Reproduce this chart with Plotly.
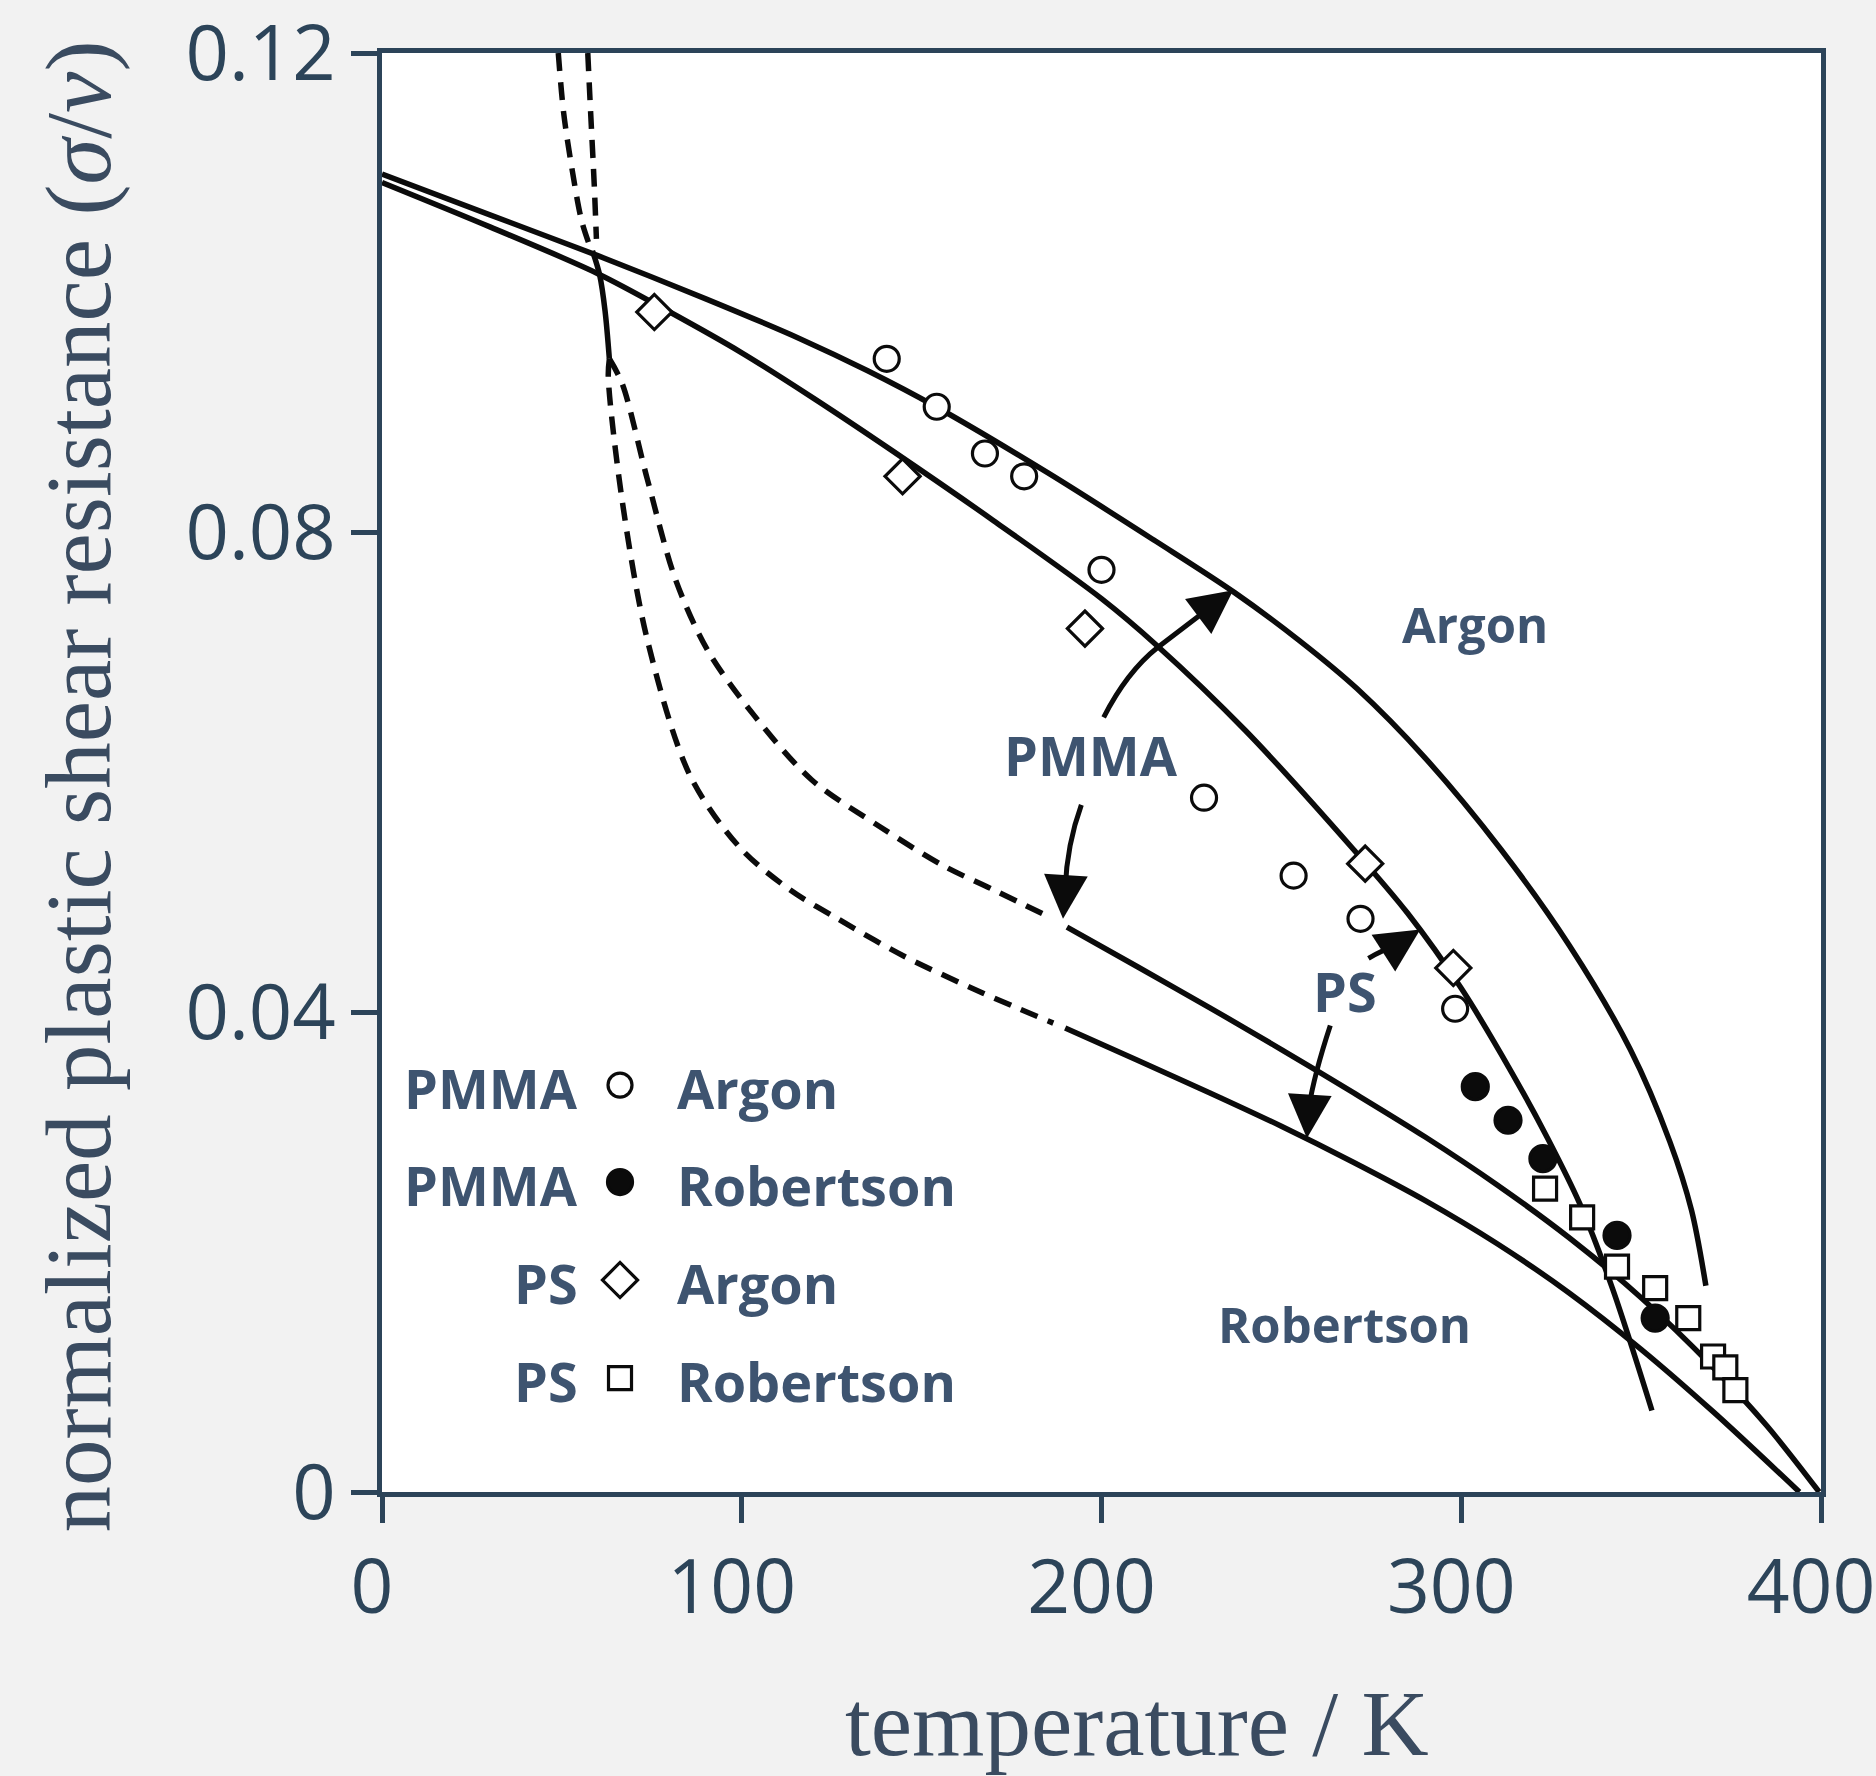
import plotly.graph_objects as go

# ---------------- data ----------------
# Argon model, upper curve (PMMA)
argon_pmma_T = [0, 30, 60, 90, 116, 135, 154, 185, 215, 237, 255, 271, 290, 311, 330, 347, 358, 364, 368]
argon_pmma_y = [0.1099, 0.1065, 0.1031, 0.0995, 0.0962, 0.0935, 0.0905, 0.0850, 0.0793, 0.0750, 0.0710,
                0.0670, 0.0612, 0.0536, 0.0456, 0.0369, 0.0292, 0.0235, 0.0172]
# Argon model, second curve (PS)
argon_ps_T = [0, 30, 60, 80, 100, 120, 142, 170, 200, 215, 240, 270, 285, 300, 314, 324, 333, 342, 353]
argon_ps_y = [0.1092, 0.1055, 0.1016, 0.0984, 0.0950, 0.0912, 0.0868, 0.0810, 0.0745, 0.0707, 0.0635,
              0.0536, 0.0483, 0.0420, 0.0350, 0.0295, 0.0240, 0.0170, 0.0068]
# Robertson model, PMMA (middle curve): dashed low-T part, then solid
rob_pmma_dash_top_T = [57.2, 58.0, 59.0, 59.6]
rob_pmma_dash_top_y = [0.1200, 0.1150, 0.1090, 0.1045]
rob_pmma_dash_T = [63.2, 66.8, 73.8, 81.7, 90.7, 103.6, 119.4, 138.3, 156.2, 170.1, 185.8]
rob_pmma_dash_y = [0.0945, 0.0924, 0.0844, 0.0760, 0.0701, 0.0647, 0.0594, 0.0555, 0.0522, 0.0502, 0.0479]
rob_pmma_T = [190.4, 210, 230, 250, 270, 290, 310, 330, 350, 370, 385, 399.5]
rob_pmma_y = [0.0471, 0.0438, 0.0404, 0.0369, 0.0333, 0.0296, 0.0256, 0.0212, 0.0162, 0.0104, 0.0055, 0.0]
# Robertson model, PS (lower curve)
rob_ps_dash_top_T = [49.0, 50.5, 53.0, 55.5, 58.0]
rob_ps_dash_top_y = [0.1200, 0.1150, 0.1100, 0.1060, 0.1037]
rob_ps_dash_T = [63.2, 62.9, 66.8, 73.8, 85.7, 99.6, 113.5, 126.7, 145.0, 167.1, 186.6]
rob_ps_dash_y = [0.0945, 0.0930, 0.0826, 0.0710, 0.0597, 0.0537, 0.0502, 0.0478, 0.0447, 0.0416, 0.0391]
rob_ps_T = [189.9, 210, 230, 250, 270, 290, 310, 330, 350, 370, 394]
rob_ps_y = [0.0387, 0.0360, 0.0333, 0.0305, 0.0275, 0.0243, 0.0207, 0.0166, 0.0119, 0.0067, 0.0]
# short solid piece where the two dashed curves meet
joint_T = [58.5, 60.5, 62.0, 63.2]
joint_y = [0.1035, 0.1015, 0.0985, 0.0945]

# measured points
pmma_argon_T = [140.3, 154.2, 167.6, 178.5, 200.0, 228.5, 253.4, 272.0, 298.3]
pmma_argon_y = [0.0945, 0.0905, 0.0866, 0.0847, 0.0769, 0.0579, 0.0514, 0.0478, 0.0403]
pmma_rob_T = [303.9, 313.0, 322.7, 343.3, 353.9]
pmma_rob_y = [0.0338, 0.0310, 0.0278, 0.0214, 0.0145]
ps_argon_T = [75.7, 144.7, 195.4, 273.3, 297.8]
ps_argon_y = [0.0984, 0.0847, 0.0720, 0.0524, 0.0437]
ps_rob_T = [323.3, 333.6, 343.3, 353.9, 363.1, 370.0, 373.4, 376.2]
ps_rob_y = [0.0253, 0.0229, 0.0188, 0.0170, 0.0145, 0.0113, 0.0104, 0.0085]

x_ticks = [0, 100, 200, 300, 400]
y_ticks = [0, 0.04, 0.08, 0.12]
y_ticktext = ["0", "0.04", "0.08", "0.12"]

legend_left = ["PMMA", "PMMA", "PS", "PS"]
legend_right = ["Argon", "Robertson", "Argon", "Robertson"]

# ---------------- styling ----------------
INK = "#0b0b0b"
AXIS = "#2c4459"
LABEL = "#3e5470"
TITLE = "#3a4b60"
LW = 5.5
DASH = "18px,11px"

fig = go.Figure()

def curve(T, y, dash=None):
    fig.add_trace(go.Scatter(x=T, y=y, mode="lines", showlegend=False, hoverinfo="skip",
                             line=dict(color=INK, width=LW, dash=dash, shape="spline", smoothing=0.9)))

curve(argon_pmma_T, argon_pmma_y)
curve(argon_ps_T, argon_ps_y)
curve(rob_pmma_dash_top_T, rob_pmma_dash_top_y, DASH)
curve(rob_ps_dash_top_T, rob_ps_dash_top_y, DASH)
curve(joint_T, joint_y)
curve(rob_pmma_dash_T, rob_pmma_dash_y, DASH)
curve(rob_ps_dash_T, rob_ps_dash_y, DASH)
curve(rob_pmma_T, rob_pmma_y)
curve(rob_ps_T, rob_ps_y)

def pts(T, y, symbol, size, fill, xa="x", ya="y"):
    fig.add_trace(go.Scatter(x=T, y=y, xaxis=xa, yaxis=ya, mode="markers", showlegend=False,
                             hoverinfo="skip",
                             marker=dict(symbol=symbol, size=size, color=fill,
                                         line=dict(color=INK, width=3.2))))

pts(pmma_argon_T, pmma_argon_y, "circle", 25, "white")
pts(ps_argon_T, ps_argon_y, "diamond", 27, "white")
pts(pmma_rob_T, pmma_rob_y, "circle", 26, INK)
pts(ps_rob_T, ps_rob_y, "square", 23, "white")

# legend keys on an overlay axis spanning the plot area (0..1)
key_x = 0.1654
key_y = [0.2828, 0.2154, 0.1473, 0.0792]
key_sym = ["circle", "circle", "diamond", "square"]
key_fill = ["white", INK, "white", "white"]
key_size = [24, 25, 27, 23]
for i in range(4):
    pts([key_x], [key_y[i]], key_sym[i], key_size[i], key_fill[i], "x2", "y2")

annotations = []
bold = dict(family="Open Sans", size=54, color=LABEL)
for i in range(4):
    annotations.append(dict(xref="paper", yref="paper", x=0.1373, y=key_y[i] - 0.002,
                            xanchor="right", yanchor="middle", showarrow=False,
                            text="<b>%s</b>" % legend_left[i], font=bold))
    annotations.append(dict(xref="paper", yref="paper", x=0.2035, y=key_y[i] - 0.002,
                            xanchor="left", yanchor="middle", showarrow=False,
                            text="<b>%s</b>" % legend_right[i], font=bold))

small_bold = dict(family="Open Sans", size=49, color=LABEL)
annotations += [
    dict(xref="paper", yref="paper", x=0.4928, y=0.5120, xanchor="center", yanchor="middle",
         showarrow=False, text="<b>PMMA</b>", font=bold),
    dict(xref="paper", yref="paper", x=0.6693, y=0.3480, xanchor="center", yanchor="middle",
         showarrow=False, text="<b>PS</b>", font=bold),
    dict(xref="paper", yref="paper", x=0.7596, y=0.6030, xanchor="center", yanchor="middle",
         showarrow=False, text="<b>Argon</b>", font=small_bold),
    dict(xref="paper", yref="paper", x=0.6689, y=0.1170, xanchor="center", yanchor="middle",
         showarrow=False, text="<b>Robertson</b>", font=small_bold),
    # axis titles
    dict(xref="paper", yref="paper", x=0.5245, y=-0.198, xanchor="center", yanchor="bottom",
         showarrow=False, text="temperature / K",
         font=dict(family="Liberation Serif", size=93, color=TITLE)),
    dict(xref="paper", yref="paper", x=-0.2110, y=0.4905, xanchor="center", yanchor="middle",
         showarrow=False, textangle=-90,
         text="normalized plastic shear resistance (<i>σ</i>/<i>ν</i>)",
         font=dict(family="Liberation Serif", size=93, color=TITLE)),
]

# arrow heads (tip in data coords, tail offset in pixels)
heads = [(236.6, 0.0752, -32, 24), (189.3, 0.0478, 2, -30), (288.6, 0.0469, -25, 16), (257.1, 0.0295, 2, -30)]
for (hx, hy, ax, ay) in heads:
    annotations.append(dict(x=hx, y=hy, xref="x", yref="y", ax=ax, ay=ay, text="", showarrow=True,
                            arrowhead=2, arrowsize=1.75, arrowwidth=5, arrowcolor=INK))

shapes = [
    dict(type="path", xref="x", yref="y", line=dict(color=INK, width=5),
         path="M 200.6,0.0646 Q 207.1,0.0684 215.5,0.0704 L 227.7,0.0732"),
    dict(type="path", xref="x", yref="y", line=dict(color=INK, width=5),
         path="M 194.4,0.0573 Q 190.4,0.0540 189.9,0.0503"),
    dict(type="path", xref="x", yref="y", line=dict(color=INK, width=5),
         path="M 274.2,0.0445 Q 278.1,0.0452 281.5,0.0455"),
    dict(type="path", xref="x", yref="y", line=dict(color=INK, width=5),
         path="M 263.6,0.0389 Q 259.1,0.0348 257.6,0.0320"),
]

fig.update_layout(
    width=1876, height=1776, autosize=False,
    margin=dict(l=382, r=55, t=53, b=284, pad=0, autoexpand=False),
    paper_bgcolor="#f2f2f2", plot_bgcolor="white",
    annotations=annotations, shapes=shapes,
    xaxis=dict(range=[0, 400], tickvals=x_ticks, ticks="outside", ticklen=26, tickwidth=5,
               tickcolor=AXIS, showline=True, linewidth=5, linecolor=AXIS, mirror=True,
               showgrid=False, zeroline=False, ticklabeloverflow="allow", ticklabelshift=-10,
               automargin=False,
               tickfont=dict(family="Open Sans", size=75, color=AXIS)),
    yaxis=dict(range=[0, 0.12], tickvals=y_ticks, ticktext=y_ticktext, ticks="outside", ticklen=26,
               tickwidth=5, tickcolor=AXIS, showline=True, linewidth=5, linecolor=AXIS, mirror=True,
               showgrid=False, zeroline=False, ticklabeloverflow="allow", automargin=False,
               tickfont=dict(family="Open Sans", size=76, color=AXIS)),
    xaxis2=dict(range=[0, 1], overlaying="x", visible=False, automargin=False),
    yaxis2=dict(range=[0, 1], overlaying="y", visible=False, automargin=False),
    showlegend=False,
)

fig.write_html("out.html")
